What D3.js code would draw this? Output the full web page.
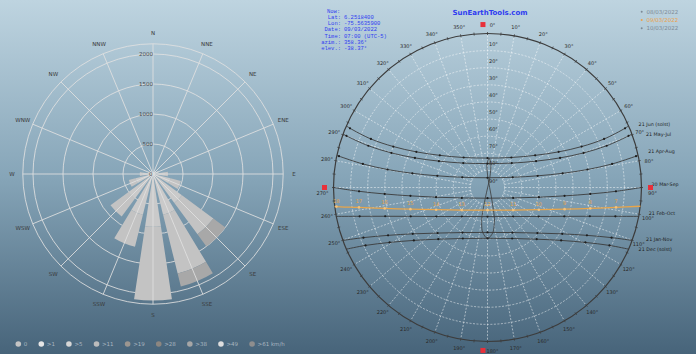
<!DOCTYPE html>
<html><head><meta charset="utf-8">
<script src="https://cdn.jsdelivr.net/npm/d3@7"></script>
<style>html,body{margin:0;padding:0;background:#7f9fb3}svg{display:block}</style>
</head><body>
<svg id="c" width="696" height="354"></svg>
<script>
// ---------------- DATA ----------------
const directions = ["N","NNE","NE","ENE","E","ESE","SE","SSE","S","SSW","SW","WSW","W","WNW","NW","NNW"];
const roseTicks = [500, 1000, 1500, 2000];
const speedClasses = ["0", ">1", ">5", ">11", ">19", ">28", ">38", ">49", ">61 km/h"];
const freqCalm = [0,0,0,0,0,0,0,0,0,0,0,0,0,0,0,0];
const freqGt1  = [30,40,60,100,200,300,600,700,880,700,500,300,180,80,50,30];
const freqGt5  = [0,0,0,0,50,180,650,1010,1230,550,380,115,40,0,0,0];
const freqGt11 = [0,0,0,0,0,0,250,220,0,0,0,0,0,0,0,0];

const azimuthTicks = d3.range(0, 360, 10);
const altitudeTicks = [10,20,30,40,50,60,70,80,90];
const pathNames = ["21 Jun (solst)","21 May-Jul","21 Apr-Aug","20 Mar-Sep","21 Feb-Oct","21 Jan-Nov","21 Dec (solst)"];
// [hour, azimuth°, altitude°]  (hour null = sunrise / sunset point)
const pathJun = [[null,66.4,0],[6,66.7,2.5],[7,67.4,16.2],[8,66.5,30.0],[9,63.4,43.5],[10,56.0,56.4],[11,38.5,67.6],[12,0,72.8],[13,321.5,67.6],[14,304.0,56.4],[15,296.6,43.5],[16,293.5,30.0],[17,292.6,16.2],[18,293.3,2.5],[null,293.6,0]];
const pathMay = [[null,69.7,0],[6,69.9,2.2],[7,70.7,16.2],[8,70.2,30.3],[9,67.8,44.2],[10,61.5,57.7],[11,44.8,69.9],[12,0,76.0],[13,315.2,69.9],[14,298.5,57.7],[15,292.2,44.2],[16,289.8,30.3],[17,289.3,16.2],[18,290.1,2.2],[null,290.3,0]];
const pathApr = [[null,78.0,0],[6,78.1,1.3],[7,79.3,15.9],[8,79.8,30.6],[9,79.3,45.3],[10,76.9,59.9],[11,67.9,74.1],[12,0,84.3],[13,292.1,74.1],[14,283.1,59.9],[15,280.7,45.3],[16,280.2,30.6],[17,280.7,15.9],[18,281.9,1.3],[null,282.0,0]];
const pathMar = [[6,90,0],[7,91.7,14.9],[8,93.6,29.8],[9,96.2,44.7],[10,100.7,59.4],[11,112.1,73.8],[12,180,83.75],[13,247.9,73.8],[14,259.3,59.4],[15,263.8,44.7],[16,266.4,29.8],[17,268.3,14.9],[18,270,0]];
const pathFeb = [[null,100.8,0],[7,102.7,13.4],[8,105.7,27.9],[9,110.6,42.1],[10,119.5,55.6],[11,138.6,67.4],[12,180,73.0],[13,221.4,67.4],[14,240.5,55.6],[15,249.4,42.1],[16,254.3,27.9],[17,257.3,13.4],[null,259.2,0]];
const pathJan = [[null,110.1,0],[7,112.0,11.8],[8,115.7,25.5],[9,121.8,38.6],[10,132.4,50.5],[11,151.0,59.9],[12,180,63.75],[13,209.0,59.9],[14,227.6,50.5],[15,238.2,38.6],[16,244.3,25.5],[17,248.0,11.8],[null,249.9,0]];
const pathDec = [[null,113.6,0],[7,115.4,11.1],[8,119.3,24.4],[9,125.7,37.0],[10,136.4,48.3],[11,154.2,56.9],[12,180,60.3],[13,205.8,56.9],[14,223.6,48.3],[15,234.3,37.0],[16,240.7,24.4],[17,244.6,11.1],[null,246.4,0]];
const pathToday = [[null,97.0,0],[7,98.8,14.0],[8,101.5,28.7],[9,105.7,43.2],[10,113.4,57.3],[11,131.3,70.0],[12,180,76.75],[13,228.7,70.0],[14,246.6,57.3],[15,254.3,43.2],[16,258.5,28.7],[17,261.2,14.0],[18,262.8,1.0],[null,263.0,0]];
// analemma at 12:00 (azimuth°, altitude°)
const analemma = [[173.1,63.6],[169.0,69.1],[166.8,72.7],[159.1,83.3],[2.5,84.3],[358.4,77.7],[358.8,76.2],[3.0,72.8],[8.1,75.7],[8.8,76.6],[13.2,84.1],[191.7,84.2],[190.7,72.6],[189.1,68.4],[186.1,63.6],[179.8,60.3]];
const markerAz = [358.4, 90, 181.6, 270];
const infoLabels = ["Now:", "Lat:", "Lon:", "Date:", "Time:", "azim.:", "elev.:"];
const infoValues = ["", "6.2518400", "-75.5635900", "09/03/2022", "07:00 (UTC-5)", "358.36°", "-38.37°"];
const legendDates = ["08/03/2022", "09/03/2022", "10/03/2022"];

// ---------------- STYLE ----------------
const classColors = ["#c0c0c0","#cacaca","#c3c3c3","#a8a8a8","#9c9690","#8c8680","#a6a6a6","#dedede","#8e8e8e"];
const legendColors = ["#c4c4c4","#e6e6e6","#d6d6d6","#bcbcbc","#9c9690","#8c8680","#a6a6a6","#dedede","#8e8e8e"];
const FONT = "DejaVu Sans, sans-serif";

const svg = d3.select("#c");
const defs = svg.append("defs");
const grad = defs.append("linearGradient").attr("id","bg").attr("x1",0).attr("y1",0).attr("x2",0).attr("y2",1);
grad.append("stop").attr("offset","0%").attr("stop-color","#bed4e0");
grad.append("stop").attr("offset","50%").attr("stop-color","#86a5b8");
grad.append("stop").attr("offset","100%").attr("stop-color","#47647a");
svg.append("rect").attr("width",696).attr("height",354).attr("fill","url(#bg)");

// ---------------- WIND ROSE ----------------
const rose = svg.append("g").attr("transform","translate(153,174)");
const rR = d3.scaleLinear().domain([0,2000]).range([0,120]);
const rOuterVal = 2170;
const dirAngle = d3.scaleLinear().domain([0,16]).range([0,2*Math.PI]);
const gridCol = "rgba(225,225,225,0.85)";

rose.selectAll("circle.ring").data(roseTicks.concat([rOuterVal])).join("circle")
  .attr("r", d=>rR(d)).attr("fill","none").attr("stroke",gridCol).attr("stroke-width",1);

// bars (stacked)
const stackRows = directions.map((d,i)=>({dir:d, i:i, c0:freqCalm[i], c1:freqGt1[i], c2:freqGt5[i], c3:freqGt11[i]}));
const stack = d3.stack().keys(["c0","c1","c2","c3"])(stackRows);
const half = (8.6/180)*Math.PI;
const arc = d3.arc();
stack.forEach((layer,k)=>{
  rose.append("g").selectAll("path").data(layer).join("path")
    .attr("d", d=>{
      if (d[1]-d[0] <= 0) return null;
      const a = dirAngle(d.data.i);
      return arc({innerRadius:rR(d[0]), outerRadius:rR(d[1]), startAngle:a-half, endAngle:a+half});
    })
    .attr("fill", classColors[k]).attr("stroke","none");
});

rose.selectAll("line.spoke").data(directions).join("line")
  .attr("x1",0).attr("y1",0)
  .attr("x2",(d,i)=>d3.pointRadial(dirAngle(i), rR(rOuterVal))[0])
  .attr("y2",(d,i)=>d3.pointRadial(dirAngle(i), rR(rOuterVal))[1])
  .attr("stroke",gridCol).attr("stroke-width",1);

rose.selectAll("text.dir").data(directions).join("text")
  .attr("x",(d,i)=>d3.pointRadial(dirAngle(i), 141)[0])
  .attr("y",(d,i)=>d3.pointRadial(dirAngle(i), 141)[1])
  .attr("text-anchor","middle").attr("dominant-baseline","central")
  .attr("font-family",FONT).attr("font-size",5.5).attr("fill","#3a3a3a").text(d=>d);

rose.selectAll("text.tick").data([0].concat(roseTicks)).join("text")
  .attr("x", d=> d===0 ? -0.5 : 0).attr("y", d=>-rR(d))
  .attr("text-anchor","end").attr("dominant-baseline","central")
  .attr("font-family",FONT).attr("font-size",5.5).attr("fill","#4a4a4a").text(d=>d);

// legend
const leg = svg.append("g");
let lx = 18.3;
speedClasses.forEach((s,i)=>{
  leg.append("circle").attr("cx",lx).attr("cy",344).attr("r",2.8).attr("fill",legendColors[i]);
  const t = leg.append("text").attr("x",lx+5.5).attr("y",344).attr("dominant-baseline","central")
    .attr("font-family",FONT).attr("font-size",5.5).attr("fill","#a9b6c0").text(s);
  lx = lx + 5.5 + t.node().getComputedTextLength() + 14;
});

// ---------------- SUN PATH ----------------
const sc = svg.append("g").attr("transform","translate(487.5,187.5)");
const rAlt = d3.scaleLinear().domain([90,0]).range([0,154]);
const azA = d3.scaleLinear().domain([0,360]).range([0,2*Math.PI]);
const P = (az,alt)=>d3.pointRadial(azA(az), rAlt(alt));
const white = "rgba(255,255,255,0.62)";

sc.selectAll("circle.alt").data(altitudeTicks.filter(a=>a<90)).join("circle")
  .attr("r",d=>rAlt(d)).attr("fill","none").attr("stroke",white).attr("stroke-width",0.8).attr("stroke-dasharray","2,1.5");
sc.selectAll("line.az").data(azimuthTicks).join("line")
  .attr("x1",d=>P(d,80)[0]).attr("y1",d=>P(d,80)[1])
  .attr("x2",d=>P(d,0)[0]).attr("y2",d=>P(d,0)[1])
  .attr("stroke",white).attr("stroke-width",0.8).attr("stroke-dasharray","2,1.5");

// outer circle + ticks
sc.append("circle").attr("r",rAlt(0)).attr("fill","none").attr("stroke","#3c3c3c").attr("stroke-width",1.2);
sc.selectAll("line.otick").data(d3.range(0,360,5)).join("line")
  .attr("x1",d=>d3.pointRadial(azA(d), rAlt(0)-1.5)[0]).attr("y1",d=>d3.pointRadial(azA(d), rAlt(0)-1.5)[1])
  .attr("x2",d=>d3.pointRadial(azA(d), rAlt(0)+1.5)[0]).attr("y2",d=>d3.pointRadial(azA(d), rAlt(0)+1.5)[1])
  .attr("stroke","#3c3c3c").attr("stroke-width",0.8);

// azimuth labels (a few nudged so they clear the markers / path names)
const azNudge = {0:[5,0], 90:[2,5], 180:[5,0], 270:[-2,5], 80:[1,2], 100:[0,2], 70:[-1,0], 110:[-2,1]};
sc.selectAll("text.azl").data(azimuthTicks).join("text")
  .attr("x",d=>d3.pointRadial(azA(d), 163)[0] + (azNudge[d]?azNudge[d][0]:0))
  .attr("y",d=>d3.pointRadial(azA(d), 163)[1] + (azNudge[d]?azNudge[d][1]:0))
  .attr("text-anchor","middle").attr("dominant-baseline","central")
  .attr("font-family",FONT).attr("font-size",5).attr("fill","#2a2a2a").text(d=>d+"°");

sc.selectAll("text.altl").data(altitudeTicks).join("text")
  .attr("x",1.5).attr("y",d=>-rAlt(d)-7)
  .attr("dominant-baseline","central")
  .attr("font-family",FONT).attr("font-size",5).attr("fill","#2a2a2a").text(d=>d+"°");

// analemma
sc.append("path").datum(analemma)
  .attr("d", d3.line().x(d=>P(d[0],d[1])[0]).y(d=>P(d[0],d[1])[1]).curve(d3.curveCardinalClosed))
  .attr("fill","none").attr("stroke","#3a3a3a").attr("stroke-width",0.8);

const lineGen = d3.line().x(d=>P(d[1],d[2])[0]).y(d=>P(d[1],d[2])[1]).curve(d3.curveCatmullRom);
const paths = [pathJun,pathMay,pathApr,pathMar,pathFeb,pathJan,pathDec];
const labelDy = [-1,0,-4,-3,-3,-1,0];
const labelDx = [10,14,10,10,10,14,10];
paths.forEach((pd,k)=>{
  sc.append("path").datum(pd).attr("d",lineGen).attr("fill","none").attr("stroke","#3b3b3b").attr("stroke-width",0.9);
  sc.append("g").selectAll("circle").data(pd.filter(d=>d[0]!==null && d[2]>0)).join("circle")
    .attr("cx",d=>P(d[1],d[2])[0]).attr("cy",d=>P(d[1],d[2])[1]).attr("r",1.1).attr("fill","#1e1e1e");
  const s = P(pd[0][1], pd[0][2]);
  sc.append("text").attr("x",s[0]+labelDx[k]).attr("y",s[1]+labelDy[k]).attr("dominant-baseline","central")
    .attr("font-family",FONT).attr("font-size",4.8).attr("fill","#1e1e1e").text(pathNames[k]);
});

// today
sc.append("path").datum(pathToday).attr("d",lineGen).attr("fill","none").attr("stroke","#e8a54a").attr("stroke-width",1.3);
const tdots = pathToday.filter(d=>d[0]!==null);
sc.append("g").selectAll("circle").data(tdots).join("circle")
  .attr("cx",d=>P(d[1],d[2])[0]).attr("cy",d=>P(d[1],d[2])[1]).attr("r",1.3).attr("fill","#f4c27a");
sc.append("g").selectAll("text").data(tdots).join("text")
  .attr("x",d=>P(d[1],d[2])[0]).attr("y",d=>P(d[1],d[2])[1]-6)
  .attr("text-anchor","middle").attr("dominant-baseline","central")
  .attr("font-family",FONT).attr("font-size",5).attr("fill","#e8a54a").text(d=>d[0]);

// red markers
sc.selectAll("rect.mk").data(markerAz).join("rect")
  .attr("x",d=>d3.pointRadial(azA(d),163)[0]-2.5).attr("y",d=>d3.pointRadial(azA(d),163)[1]-2.5)
  .attr("width",5).attr("height",5).attr("fill","#e8303a");

// info block
const info = svg.append("g");
infoLabels.forEach((l,i)=>{
  info.append("text").attr("x", i===0 ? 327 : 341).attr("y",11+i*6.3)
    .attr("text-anchor", i===0 ? "start" : "end").attr("dominant-baseline","central")
    .attr("font-family","Liberation Mono, monospace").attr("font-size",5.5).attr("fill","#2f3cf0").text(l);
  info.append("text").attr("x",344).attr("y",11+i*6.3).attr("dominant-baseline","central")
    .attr("font-family","Liberation Mono, monospace").attr("font-size",5.5).attr("fill","#2f3cf0").text(infoValues[i]);
});
svg.append("text").attr("x",490).attr("y",13).attr("text-anchor","middle").attr("dominant-baseline","central")
  .attr("font-family",FONT).attr("font-weight","bold").attr("font-size",7).attr("fill","#2f3cf0").text("SunEarthTools.com");

// top-right legend
const dateColors = ["#7d8a96","#eca24a","#7d8a96"];
legendDates.forEach((t,i)=>{
  svg.append("circle").attr("cx",641.7).attr("cy",11.7+i*8.3).attr("r",1).attr("fill",dateColors[i]);
  svg.append("text").attr("x",646.5).attr("y",11.7+i*8.3).attr("dominant-baseline","central")
    .attr("font-family",FONT).attr("font-size",5.5).attr("fill",dateColors[i]).text(t);
});
</script>
</body></html>
